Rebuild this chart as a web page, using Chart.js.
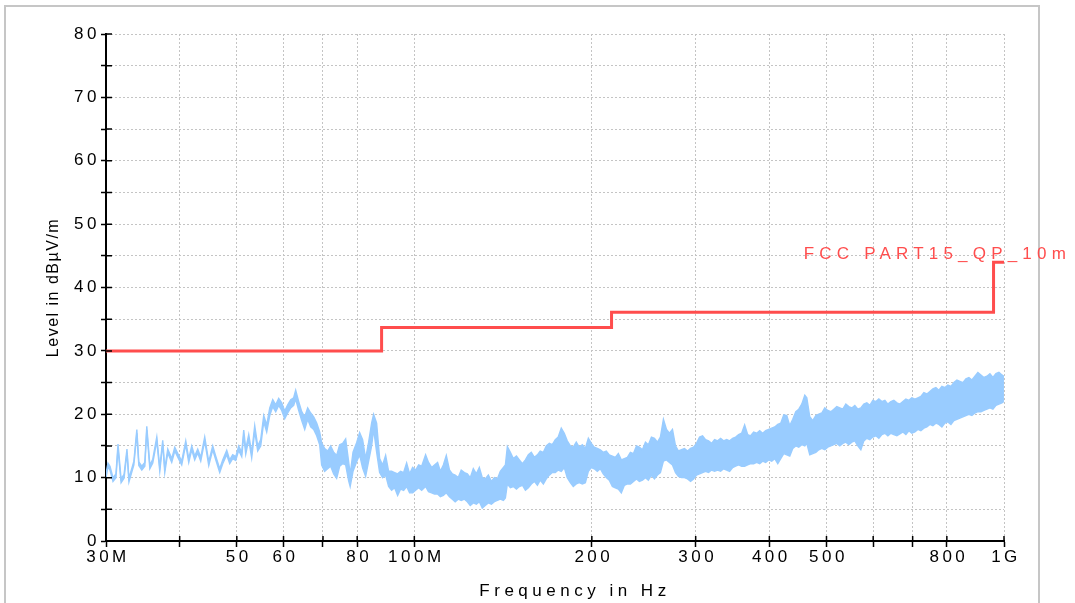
<!DOCTYPE html>
<html>
<head>
<meta charset="utf-8">
<script src="https://cdn.jsdelivr.net/npm/chart.js@4/dist/chart.umd.min.js"></script>
<style>
  html, body { margin: 0; padding: 0; background: #fff; }
  #wrap { position: relative; width: 1075px; height: 603px; overflow: hidden; }
  #frame { position: absolute; left: 4px; top: 5px; width: 1032px; height: 640px; border: 2px solid #c6c6c6; }
  #box { position: absolute; left: 0; top: 0; width: 1075px; height: 603px; }
</style>
</head>
<body>
<div id="wrap">
  <div id="frame"></div>
  <div id="box"><canvas id="emiChart"></canvas></div>
</div>
<script>
// scan trace (upper / lower edge of the noisy band), MHz and dBµV/m
const freqMHz = [
  30.0, 30.23, 30.47, 30.83, 31.19, 31.44, 31.82, 32.19, 32.56, 32.81,
  33.19, 33.45, 33.84, 34.10, 34.50, 34.91, 35.18, 35.60, 36.01, 36.58,
  37.01, 37.44, 37.74, 38.18, 38.78, 39.24, 39.86, 40.32, 40.96, 41.44,
  41.93, 42.42, 42.92, 43.43, 44.11, 44.81, 45.51, 46.05, 46.77, 47.32,
  48.07, 48.63, 49.20, 49.79, 50.37, 50.97, 51.37, 51.77, 52.38, 52.99,
  53.62, 54.25, 54.89, 55.54, 56.19, 56.86, 57.53, 58.20, 58.88, 59.58,
  60.28, 60.99, 61.71, 62.43, 62.92, 63.67, 64.42, 65.18, 65.94, 66.72,
  67.50, 68.30, 69.10, 69.64, 70.46, 71.29, 72.13, 72.98, 73.84, 74.71,
  75.59, 76.48, 77.38, 77.84, 78.71, 79.83, 80.77, 81.72, 82.68, 83.66,
  84.64, 85.30, 86.31, 87.33, 88.36, 89.40, 90.45, 91.51, 92.59, 93.69,
  94.79, 95.91, 97.04, 98.18, 99.34, 100.5, 101.7, 102.9, 104.5, 105.7,
  107.0, 108.2, 109.5, 110.7, 112.0, 113.3, 114.7, 116.0, 117.3, 118.7,
  120.1, 121.6, 123.0, 124.4, 125.9, 127.4, 128.9, 130.4, 131.9, 133.5,
  135.1, 136.7, 138.3, 139.9, 141.6, 142.7, 143.8, 145.5, 147.2, 149.0,
  150.7, 152.5, 154.3, 156.1, 157.9, 159.8, 161.7, 163.5, 165.5, 167.4,
  169.4, 171.4, 173.4, 175.4, 177.5, 179.6, 181.7, 183.9, 186.0, 188.2,
  190.4, 192.7, 195.0, 197.3, 199.6, 201.9, 204.3, 206.7, 209.1, 211.6,
  214.1, 216.7, 219.2, 221.8, 224.4, 227.1, 229.8, 232.5, 235.3, 238.1,
  240.8, 243.7, 246.6, 249.4, 252.4, 255.4, 258.4, 261.4, 264.5, 267.7,
  270.8, 274.0, 277.3, 280.5, 283.9, 287.2, 290.6, 294.1, 297.5, 301.0,
  304.6, 308.2, 311.8, 315.5, 319.2, 323.0, 326.8, 330.7, 334.6, 338.6,
  342.5, 346.6, 350.7, 354.8, 359.0, 363.2, 367.5, 371.8, 376.2, 380.7,
  385.2, 389.7, 394.3, 399.0, 403.7, 408.5, 413.4, 418.2, 423.2, 428.2,
  433.2, 438.3, 443.5, 448.7, 454.0, 459.4, 463.0, 468.4, 473.9, 479.6,
  485.2, 490.9, 496.7, 502.5, 508.5, 514.5, 520.5, 526.7, 532.9, 539.2,
  545.6, 552.0, 558.5, 565.1, 571.8, 578.5, 585.3, 592.2, 599.2, 606.3,
  613.4, 620.7, 628.0, 635.4, 642.9, 650.5, 658.2, 665.9, 673.8, 681.7,
  689.7, 697.8, 706.1, 714.4, 722.8, 731.3, 739.9, 748.7, 757.5, 766.5,
  775.5, 784.7, 793.9, 803.3, 812.8, 822.3, 832.1, 841.8, 851.7, 861.8,
  871.9, 882.2, 892.6, 903.1, 913.8, 924.6, 935.6, 946.5, 957.7, 969.0,
  980.4, 991.9, 999.8
];
const levelHi = [
  10.6, 12.3, 11.8, 10.0, 10.6, 15.3, 9.8, 10.5, 14.5, 9.9,
  11.5, 12.6, 17.6, 12.5, 11.8, 12.4, 18.1, 12.0, 12.9, 16.4,
  11.6, 15.9, 11.4, 14.5, 13.0, 14.8, 13.5, 12.6, 15.8, 13.0,
  15.0, 13.4, 14.5, 13.2, 16.4, 12.5, 15.0, 13.4, 11.4, 12.8,
  14.3, 12.8, 13.6, 13.3, 15.0, 14.0, 17.5, 14.5, 16.8, 13.9,
  18.2, 15.0, 16.0, 19.8, 18.3, 21.0, 22.3, 21.5, 22.5, 21.8,
  20.5, 21.5, 22.3, 22.6, 23.8, 22.0, 20.4, 19.6, 21.0, 20.2,
  19.6, 18.6, 17.2, 15.5, 14.6, 14.2, 15.0, 14.0, 13.5, 15.2,
  15.4, 16.1, 12.5, 10.5, 14.0, 15.5, 17.1, 16.0, 13.0, 15.6,
  18.6, 20.0, 18.6, 13.0, 12.0, 13.5, 11.0, 11.0, 10.8, 10.6,
  11.0, 10.8, 12.3, 10.6, 11.6, 11.2, 12.0, 11.8, 13.6, 12.4,
  11.6, 12.0, 12.4, 11.0, 12.0, 13.5, 11.2, 10.6, 10.4, 10.0,
  11.2, 10.8, 10.6, 10.0, 11.4, 10.6, 11.6, 10.0, 9.8, 10.4,
  9.4, 10.0, 9.8, 11.0, 11.6, 12.0, 14.9, 14.0, 13.0, 13.4,
  12.8, 12.2, 12.8, 13.6, 14.0, 13.2, 13.6, 14.2, 14.0, 15.0,
  15.4, 15.2, 16.0, 16.4, 17.8, 17.0, 15.8, 15.0, 14.8, 15.6,
  14.8, 15.2, 14.6, 16.2, 15.4, 14.8, 14.6, 14.4, 14.0, 14.2,
  13.6, 13.4, 13.2, 13.8, 12.8, 13.0, 13.2, 14.0, 13.8, 15.0,
  14.8, 14.4, 15.6, 15.2, 16.4, 16.2, 15.6, 16.4, 19.2, 17.6,
  17.0, 17.6, 15.0, 14.2, 14.4, 14.6, 14.2, 14.6, 14.8, 15.4,
  16.4, 16.6, 16.0, 15.8, 15.4, 16.0, 15.8, 16.2, 15.8, 16.0,
  15.8, 16.2, 16.4, 16.8, 17.0, 18.3, 16.8, 16.6, 17.2, 17.0,
  17.4, 17.0, 17.4, 17.6, 17.8, 18.0, 18.4, 18.6, 19.9, 19.8,
  18.2, 19.2, 20.4, 20.8, 21.6, 23.0, 22.6, 19.6, 19.0, 19.8,
  20.0, 20.2, 21.0, 20.6, 20.4, 20.8, 21.2, 21.0, 20.8, 21.6,
  21.2, 21.0, 21.4, 20.8, 21.0, 21.6, 21.8, 21.4, 22.2, 22.0,
  22.4, 22.0, 22.2, 21.6, 22.0, 22.2, 21.8, 21.6, 22.0, 22.4,
  22.2, 22.6, 22.4, 22.6, 22.8, 23.4, 23.2, 23.6, 24.0, 24.2,
  23.8, 24.4, 24.2, 24.6, 24.4, 25.0, 25.4, 25.2, 25.0, 25.6,
  25.8, 25.4, 26.0, 26.6, 26.2, 25.8, 26.0, 26.4, 25.8, 26.4,
  26.6, 26.2, 26.0
];
const levelLo = [
  10.0, 11.7, 11.2, 9.4, 10.0, 14.6, 9.2, 9.9, 13.9, 9.3,
  10.9, 12.0, 17.0, 11.9, 11.2, 11.8, 17.5, 11.4, 12.3, 15.8,
  11.0, 15.3, 10.8, 13.9, 12.4, 14.2, 12.9, 12.0, 15.2, 12.4,
  14.4, 12.8, 13.9, 12.6, 15.8, 11.9, 14.4, 12.8, 10.8, 12.2,
  13.6, 12.2, 13.0, 12.7, 14.3, 13.3, 16.7, 13.7, 16.0, 13.1,
  17.3, 14.2, 15.0, 18.8, 17.2, 19.8, 21.2, 20.4, 21.4, 20.6,
  19.3, 20.2, 21.0, 21.4, 22.4, 20.6, 19.0, 17.6, 19.2, 18.0,
  17.6, 16.6, 15.2, 12.0, 11.0, 11.4, 11.8, 10.6, 9.9, 11.8,
  12.2, 12.0, 9.5, 8.6, 11.0, 12.5, 13.6, 11.5, 10.2, 12.6,
  15.0, 17.6, 14.0, 10.8, 10.0, 10.4, 8.6, 8.0, 8.4, 7.2,
  8.2, 8.0, 8.6, 7.6, 7.6, 8.0, 8.4, 8.0, 8.6, 7.8,
  7.6, 7.4, 7.4, 7.0, 7.2, 7.6, 7.0, 6.6, 6.2, 6.6,
  6.4, 6.6, 6.2, 5.6, 6.0, 5.8, 6.2, 5.2, 5.6, 6.0,
  5.8, 6.2, 6.4, 6.6, 6.4, 6.8, 9.0, 8.4, 8.6, 8.2,
  8.6, 8.8, 8.0, 8.4, 9.0, 9.4, 8.8, 9.6, 9.0, 9.8,
  10.4, 10.8, 10.8, 11.2, 11.0, 11.6, 10.0, 9.2, 8.6, 9.0,
  9.2, 9.0, 9.2, 11.0, 11.6, 11.4, 11.0, 11.4, 10.6, 10.0,
  9.6, 8.6, 8.4, 8.2, 7.6, 8.8, 9.0, 9.0, 9.4, 9.8,
  9.4, 9.6, 10.0, 9.6, 10.4, 9.8, 10.4, 10.8, 12.6, 12.8,
  12.4, 12.0, 10.8, 10.2, 10.0, 10.0, 9.8, 9.4, 9.8, 10.4,
  10.6, 10.8, 11.0, 10.8, 11.2, 11.0, 11.2, 11.0, 11.4, 11.2,
  11.0, 11.6, 11.8, 12.0, 11.8, 11.8, 12.0, 12.2, 12.2, 12.4,
  12.2, 12.6, 12.4, 12.8, 12.6, 13.0, 12.2, 13.0, 13.8, 13.6,
  13.4, 14.6, 15.0, 14.8, 15.2, 15.0, 15.4, 13.6, 13.8, 14.0,
  14.4, 14.6, 14.4, 14.8, 15.0, 15.2, 15.4, 15.0, 15.4, 15.6,
  15.2, 15.6, 15.8, 15.0, 14.4, 15.8, 16.2, 16.0, 16.4, 16.6,
  16.2, 16.8, 17.0, 16.6, 17.0, 16.8, 16.6, 16.9, 17.2, 16.8,
  17.4, 17.0, 17.2, 17.6, 17.4, 17.8, 18.0, 18.4, 18.2, 18.6,
  18.4, 18.0, 18.6, 18.8, 18.4, 19.0, 19.2, 19.4, 19.6, 19.8,
  20.0, 19.8, 20.2, 20.4, 20.4, 20.6, 20.8, 21.0, 20.8, 21.4,
  21.6, 21.8, 22.0
];

// FCC Part 15 QP limit at 10 m
const limitFreq = [30, 88, 216, 960, 1000];
const limitLevel = [30, 33.7, 36.1, 44, 44];
const limitName = 'FCC PART15_QP_10m';

const xTickValues = [30, 40, 50, 60, 70, 80, 100, 200, 300, 400, 500, 600, 700, 800, 1000];
const xTickLabels = ['30M', '', '50', '60', '', '80', '100M', '200', '300', '400', '500', '', '', '800', '1G'];

const FONT = "'Liberation Sans', Arial, sans-serif";
const traceColor = '#99ccff';
const limitColor = '#ff4d4d';

function withSpacing(scale, method, spacing, dx) {
    const orig = scale[method];
    scale[method] = function (...args) {
        const c = this.ctx;
        const prev = c.letterSpacing;
        c.save();
        c.letterSpacing = spacing;
        if (dx) c.translate(dx, 0);
        orig.apply(this, args);
        c.restore();
        c.letterSpacing = prev;
    };
}

const spacingPlugin = {
    id: 'spacing',
    afterLayout(chart) {
        const { x, y } = chart.scales;
        if (x._spaced) return;
        withSpacing(x, 'drawLabels', '3.5px', 2);
        withSpacing(x, 'drawTitle', '4.5px', 20);
        withSpacing(y, 'drawLabels', '3.5px', 0);
        withSpacing(y, 'drawTitle', '1.5px', 0);
        x._spaced = true;
    }
};

// ticks cross the axis: chart.js draws the outer half, this draws the inner half
const innerTicks = {
    id: 'innerTicks',
    afterDraw(chart) {
        const { ctx, chartArea } = chart;
        const { x, y } = chart.scales;
        ctx.save();
        ctx.strokeStyle = '#000';
        ctx.lineWidth = 1.5;
        ctx.beginPath();
        y.ticks.forEach(t => {
            const py = y.getPixelForValue(t.value);
            ctx.moveTo(chartArea.left, py);
            ctx.lineTo(chartArea.left + 6, py);
        });
        x.ticks.forEach(t => {
            const px = x.getPixelForValue(t.value);
            ctx.moveTo(px, chartArea.bottom);
            ctx.lineTo(px, chartArea.bottom - 5);
        });
        ctx.stroke();
        ctx.restore();
    }
};

const limitLabel = {
    id: 'limitLabel',
    afterDatasetsDraw(chart) {
        const { ctx } = chart;
        const { x, y } = chart.scales;
        const n = limitFreq.length - 1;
        ctx.save();
        ctx.font = '17px ' + FONT;
        ctx.letterSpacing = '5.2px';
        ctx.fillStyle = limitColor;
        ctx.textAlign = 'right';
        ctx.textBaseline = 'alphabetic';
        ctx.fillText(limitName, x.getPixelForValue(limitFreq[n]) + 67, y.getPixelForValue(limitLevel[n]) - 3);
        ctx.restore();
    }
};

const ctx = document.getElementById('emiChart').getContext('2d');
new Chart(ctx, {
    type: 'line',
    data: {
        datasets: [
            { label: limitName, data: limitFreq.map((f, i) => ({ x: f, y: limitLevel[i] })), stepped: 'before',
              borderColor: limitColor, borderWidth: 3, pointRadius: 0, fill: false },
            { label: 'max', data: freqMHz.map((f, i) => ({ x: f, y: levelHi[i] })), borderColor: traceColor,
              backgroundColor: traceColor, borderWidth: 1.4, pointRadius: 0, tension: 0, fill: '+1' },
            { label: 'min', data: freqMHz.map((f, i) => ({ x: f, y: levelLo[i] })), borderColor: traceColor,
              borderWidth: 1.4, pointRadius: 0, tension: 0, fill: false }
        ]
    },
    options: {
        responsive: true, maintainAspectRatio: false, animation: false,
        layout: { padding: { top: 34, right: 71, left: 0, bottom: 0 } },
        plugins: { legend: { display: false }, tooltip: { enabled: false } },
        scales: {
            x: {
                type: 'logarithmic', min: 30, max: 1000,
                afterBuildTicks: s => { s.ticks = xTickValues.map(v => ({ value: v })); },
                afterFit: s => { s.height = 62; },
                ticks: { autoSkip: false, maxRotation: 0, padding: 0, color: '#000',
                         font: { family: FONT, size: 17 },
                         callback: (v, i) => xTickLabels[i] },
                grid: { color: '#c4c4c4', lineWidth: 1, tickLength: 6, tickColor: '#000', tickWidth: 1.5 },
                border: { color: '#000', width: 2, dash: [2, 2] },
                title: { display: true, text: 'Frequency in Hz', color: '#000',
                         font: { family: FONT, size: 17 }, padding: { top: 0, bottom: 1 } }
            },
            y: {
                min: 0, max: 80,
                afterFit: s => { s.width = 106; },
                ticks: { stepSize: 5, padding: 1, color: '#000', font: { family: FONT, size: 17 },
                         callback: v => (v % 10 === 0 ? String(v) : '') },
                grid: { color: '#c4c4c4', lineWidth: 1, tickLength: 5, tickColor: '#000', tickWidth: 1.5 },
                border: { color: '#000', width: 2, dash: [2, 2] },
                title: { display: true, text: 'Level in dBµV/m', color: '#000',
                         font: { family: FONT, size: 16 }, padding: { top: 44, bottom: 0 } }
            }
        }
    },
    plugins: [spacingPlugin, innerTicks, limitLabel]
});
</script>
</body>
</html>
